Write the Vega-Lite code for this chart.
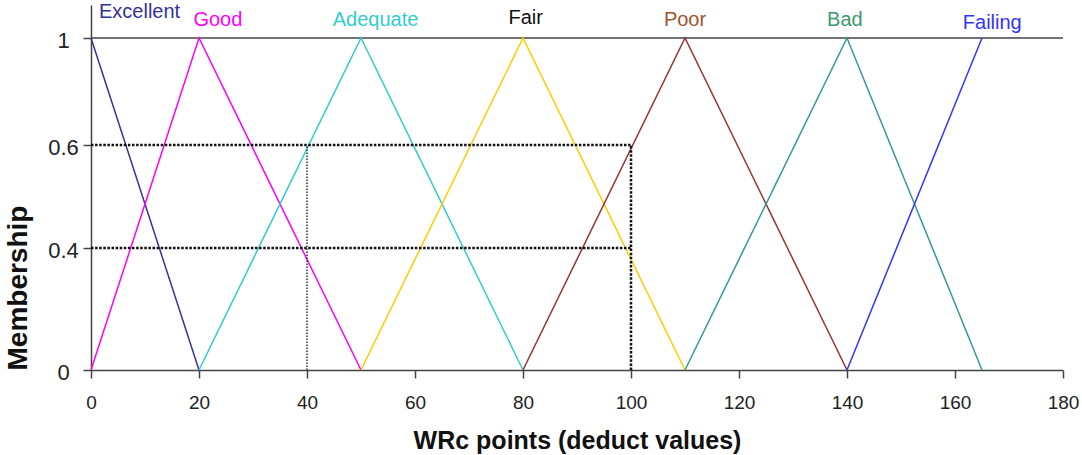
{
  "$schema": "https://vega.github.io/schema/vega-lite/v6.json",
  "width": 972,
  "height": 365,
  "autosize": {"type": "none"},
  "padding": {"left": 91, "top": 5, "right": 19, "bottom": 85},
  "background": "white",
  "config": {
    "view": {"stroke": null},
    "font": "Liberation Sans",
    "axis": {
      "domainColor": "#444444",
      "domainWidth": 1.5,
      "tickColor": "#444444",
      "tickWidth": 1.5,
      "tickSize": 8,
      "labelColor": "#222222",
      "labelFont": "Liberation Sans",
      "titleFont": "Liberation Sans",
      "titleColor": "#111111",
      "grid": false
    }
  },
  "datasets": {
    "membership": [
      {"set": "Excellent", "x": 0, "y": 1},
      {"set": "Excellent", "x": 20, "y": 0},
      {"set": "Good", "x": 0, "y": 0},
      {"set": "Good", "x": 20, "y": 1},
      {"set": "Good", "x": 50, "y": 0},
      {"set": "Adequate", "x": 20, "y": 0},
      {"set": "Adequate", "x": 50, "y": 1},
      {"set": "Adequate", "x": 80, "y": 0},
      {"set": "Fair", "x": 50, "y": 0},
      {"set": "Fair", "x": 80, "y": 1},
      {"set": "Fair", "x": 110, "y": 0},
      {"set": "Poor", "x": 80, "y": 0},
      {"set": "Poor", "x": 110, "y": 1},
      {"set": "Poor", "x": 140, "y": 0},
      {"set": "Bad", "x": 110, "y": 0},
      {"set": "Bad", "x": 140, "y": 1},
      {"set": "Bad", "x": 165, "y": 0},
      {"set": "Failing", "x": 140, "y": 0},
      {"set": "Failing", "x": 165, "y": 1}
    ],
    "guides": [
      {"x": 0, "x2": 100, "y": 0.6, "y2": 0.6},
      {"x": 0, "x2": 100, "y": 0.4, "y2": 0.4},
      {"x": 100, "x2": 100, "y": 0, "y2": 0.6},
      {"x": 40, "x2": 40, "y": 0, "y2": 0.6}
    ],
    "labels": [
      {"label": "Excellent", "x": 9, "y": 1.097},
      {"label": "Good", "x": 23.5, "y": 1.066},
      {"label": "Adequate", "x": 52.7, "y": 1.066},
      {"label": "Fair", "x": 80.5, "y": 1.076},
      {"label": "Poor", "x": 110, "y": 1.066},
      {"label": "Bad", "x": 139.6, "y": 1.066},
      {"label": "Failing", "x": 166.9, "y": 1.055}
    ],
    "top": [{"y": 1}]
  },
  "layer": [
    {
      "data": {"name": "top"},
      "mark": {"type": "rule", "color": "#444444", "strokeWidth": 1.5},
      "encoding": {
        "y": {"field": "y", "type": "quantitative"}
      }
    },
    {
      "data": {"name": "membership"},
      "mark": {"type": "line", "strokeWidth": 1.5},
      "encoding": {
        "x": {
          "field": "x",
          "type": "quantitative",
          "scale": {"domain": [0, 180], "nice": false, "zero": true},
          "axis": {
            "values": [0, 20, 40, 60, 80, 100, 120, 140, 160, 180],
            "labelFontSize": 19,
            "labelPadding": 15,
            "labelFlush": false,
            "title": "WRc points (deduct values)",
            "titleFontSize": 25,
            "titleFontWeight": "bold",
            "titlePadding": 16
          }
        },
        "y": {
          "field": "y",
          "type": "quantitative",
          "scale": {
            "domain": [0, 0.4, 0.6, 1, 1.1234],
            "range": [365, 243, 140, 33, 0],
            "nice": false,
            "zero": false
          },
          "axis": {
            "values": [0, 0.4, 0.6, 1],
            "format": "~g",
            "labelFontSize": 22,
            "labelAlign": "center",
            "labelPadding": 20,
            "labelOffset": 2,
            "title": "Membership",
            "titleFontSize": 28,
            "titleFontWeight": "bold",
            "titleAnchor": "start",
            "titlePadding": 15
          }
        },
        "color": {
          "field": "set",
          "type": "nominal",
          "scale": {
            "domain": ["Excellent", "Good", "Adequate", "Fair", "Poor", "Bad", "Failing"],
            "range": ["#333399", "#FF00FF", "#33CCCC", "#FFCC00", "#993333", "#339999", "#3333FF"]
          },
          "legend": null
        }
      }
    },
    {
      "data": {"name": "guides"},
      "transform": [{"filter": "datum.x != 40 || datum.x2 != 40"}],
      "mark": {"type": "rule", "color": "#111111", "strokeWidth": 2.5, "strokeDash": [2.5, 1.6]},
      "encoding": {
        "x": {"field": "x", "type": "quantitative"},
        "x2": {"field": "x2"},
        "y": {"field": "y", "type": "quantitative"},
        "y2": {"field": "y2"}
      }
    },
    {
      "data": {"name": "guides"},
      "transform": [{"filter": "datum.x == 40 && datum.x2 == 40"}],
      "mark": {"type": "rule", "color": "#111111", "strokeWidth": 1.3, "strokeDash": [1.5, 1.5]},
      "encoding": {
        "x": {"field": "x", "type": "quantitative"},
        "x2": {"field": "x2"},
        "y": {"field": "y", "type": "quantitative"},
        "y2": {"field": "y2"}
      }
    },
    {
      "data": {"name": "labels"},
      "mark": {"type": "text", "fontSize": 20, "baseline": "middle", "align": "center", "font": "Liberation Sans"},
      "encoding": {
        "x": {"field": "x", "type": "quantitative"},
        "y": {"field": "y", "type": "quantitative"},
        "text": {"field": "label"},
        "color": {
          "field": "label",
          "type": "nominal",
          "scale": {
            "domain": ["Excellent", "Good", "Adequate", "Fair", "Poor", "Bad", "Failing"],
            "range": ["#333399", "#FF00FF", "#33CCCC", "#111111", "#A0522D", "#3D9970", "#3333FF"]
          },
          "legend": null
        }
      }
    }
  ],
  "resolve": {"scale": {"color": "independent"}}
}
